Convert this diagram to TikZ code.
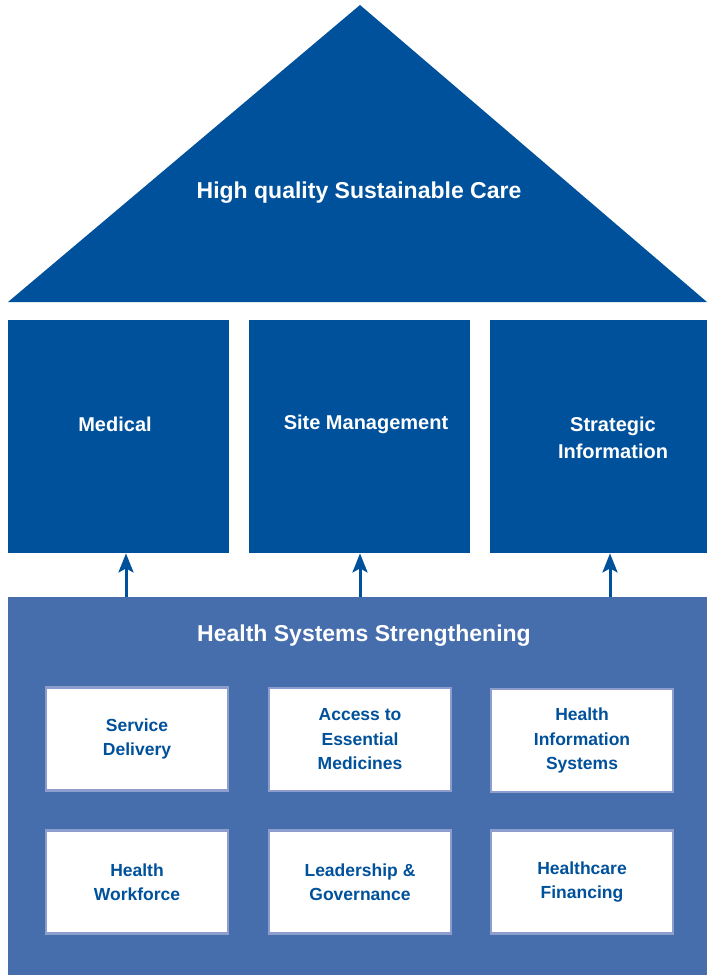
\documentclass[tikz,border=0pt]{standalone}
\usepackage{fontspec}
\setmainfont{Liberation Sans}
\usetikzlibrary{arrows.meta}
\definecolor{darkblue}{HTML}{00519B}
\definecolor{midblue}{HTML}{466EAD}
\definecolor{lavender}{HTML}{8D9DCD}
\begin{document}
\begin{tikzpicture}[x=1pt,y=-1pt,
  pillar/.style={fill=darkblue,draw=none,minimum width=221pt,minimum height=233pt,inner sep=0pt,anchor=north west},
  pillartext/.style={text=white,font=\bfseries\fontsize{20}{27}\selectfont,align=center,inner sep=0pt},
  inbox/.style={fill=white,draw=lavender,line width=2.5pt,minimum width=182pt,minimum height=103pt,inner sep=0pt,
    text=darkblue,font=\bfseries\fontsize{17.5}{24.5}\selectfont,align=center},
  uparrow/.style={draw=darkblue,line width=3pt,-{Stealth[length=19pt,width=15pt,inset=4pt]}}
]
\useasboundingbox (0,0) rectangle (707,977);
\fill[white] (0,0) rectangle (707,977);
% roof
\fill[darkblue] (8,302) -- (360,5) -- (707,302) -- cycle;
\node[text=white,font=\bfseries\fontsize{23}{28}\selectfont] (roof) at (359,193) {High quality Sustainable Care};
% pillars
\node[pillar] (med) at (8,320) {};
\node[pillar] (site) at (249,320) {};
\node[pillar,minimum width=217pt] (strat) at (490,320) {};
\node[pillartext] (medt) at (115,424) {Medical};
\node[pillartext] (sitet) at (366,424) {Site Management};
\node[pillartext] (stratt) at (613,437.5) {Strategic\\Information};
% foundation
\node[fill=midblue,draw=none,minimum width=699pt,minimum height=378pt,inner sep=0pt,anchor=north west] (hss) at (8,597) {};
\node[text=white,font=\bfseries\fontsize{23}{28}\selectfont] (hsst) at (364,636) {Health Systems Strengthening};
% inner boxes
\node[inbox] (sd) at (137,739) {Service\\Delivery};
\node[inbox] (aem) at (360,739.5) {Access to\\Essential\\Medicines};
\node[inbox] (his) at (582,740.5) {Health\\Information\\Systems};
\node[inbox] (hw) at (137,882) {Health\\Workforce};
\node[inbox] (lg) at (360,882) {Leadership \&\\Governance};
\node[inbox] (hf) at (582,882) {Healthcare\\Financing};
% arrows
\coordinate (a1) at (126,597);
\coordinate (a2) at (360,597);
\coordinate (a3) at (610,597);
\draw[uparrow] (a1) -- (a1 |- med.south);
\draw[uparrow] (a2) -- (a2 |- site.south);
\draw[uparrow] (a3) -- (a3 |- strat.south);
\end{tikzpicture}
\end{document}
